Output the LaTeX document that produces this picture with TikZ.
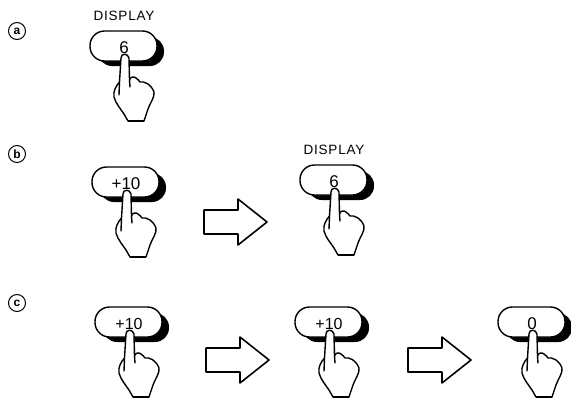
\documentclass[tikz,border=0pt]{standalone}
\usepackage{fontspec}
\setmainfont{Liberation Sans}
\newfontfamily\dispfont[LetterSpace=6]{Liberation Sans}
\tikzset{
  x=1pt,y=-1pt,
  ink/.style={draw=black,line width=1.4pt,line join=round,line cap=round},
  pill/.style={ink,fill=white,rounded corners=14.5pt},
  shade/.style={fill=black,rounded corners=14pt},
  keytext/.style={inner sep=0pt,font=\fontsize{17}{17}\selectfont},
  smalltext/.style={inner sep=0pt,font=\fontsize{16}{16}\selectfont},
  disptext/.style={inner sep=0pt,font=\fontsize{13.5}{13.5}\dispfont},
  marker/.style={circle,draw=black,line width=1pt,minimum size=17pt,inner sep=0pt,font=\fontsize{12}{12}\selectfont\bfseries},
  blockarrow/.style={ink,fill=white,line width=1.6pt},
  pics/fingerkey/.style n args={2}{code={
    \fill[shade] (-27,-18) rectangle (39,11);
    \draw[pill] (-35,-24) rectangle (32,6);
    \node[#1] at (-1,-7) {#2};
    \draw[ink,fill=white] (-4,3)
       .. controls (-4,-2) and (3,-2) .. (4,3)
       -- (4.5,25)
       .. controls (5,22) and (9,21) .. (11,23)
       .. controls (13,24) and (14,26) .. (15,27)
       .. controls (19,26) and (26,29) .. (29,37)
       .. controls (30,42) and (25,48) .. (23,54)
       -- (19,66) -- (3,66) -- (-1,59)
       .. controls (-5,53) and (-9,49) .. (-11,42)
       .. controls (-12,36) and (-9,31) .. (-5.5,27)
       -- cycle;
    \draw[ink] (4.5,25) -- (5,32);
    \draw[ink] (-5.5,27) -- (-6,40);
    \draw[line width=2.2pt] (3,66) -- (19,66);
  }}
}
\newcommand{\blockshape}[2]{%
  \draw[blockarrow] (#1,#2-12) -- (#1+34,#2-12) -- (#1+34,#2-23) -- (#1+63,#2) -- (#1+34,#2+23) -- (#1+34,#2+12) -- (#1,#2+12) -- cycle;}
\begin{document}
\begin{tikzpicture}
\useasboundingbox (0,0) rectangle (571,397);
\node[marker] (ma) at (17,31) {a};
\node[marker] (mb) at (17,154) {b};
\node[marker] (mc) at (17,303) {c};
\node[disptext] (d1) at (124,16) {DISPLAY};
\node[disptext] (d2) at (334,150) {DISPLAY};
\pic at (125,55) {fingerkey={keytext}{6}};
\pic at (127,191) {fingerkey={keytext}{+10}};
\pic at (335,189) {fingerkey={keytext}{6}};
\pic at (130,331) {fingerkey={smalltext}{+10}};
\pic at (330,331) {fingerkey={smalltext}{+10}};
\pic at (533,331) {fingerkey={keytext}{0}};
\blockshape{204}{222}
\blockshape{206}{360}
\blockshape{408}{360}
\end{tikzpicture}
\end{document}
